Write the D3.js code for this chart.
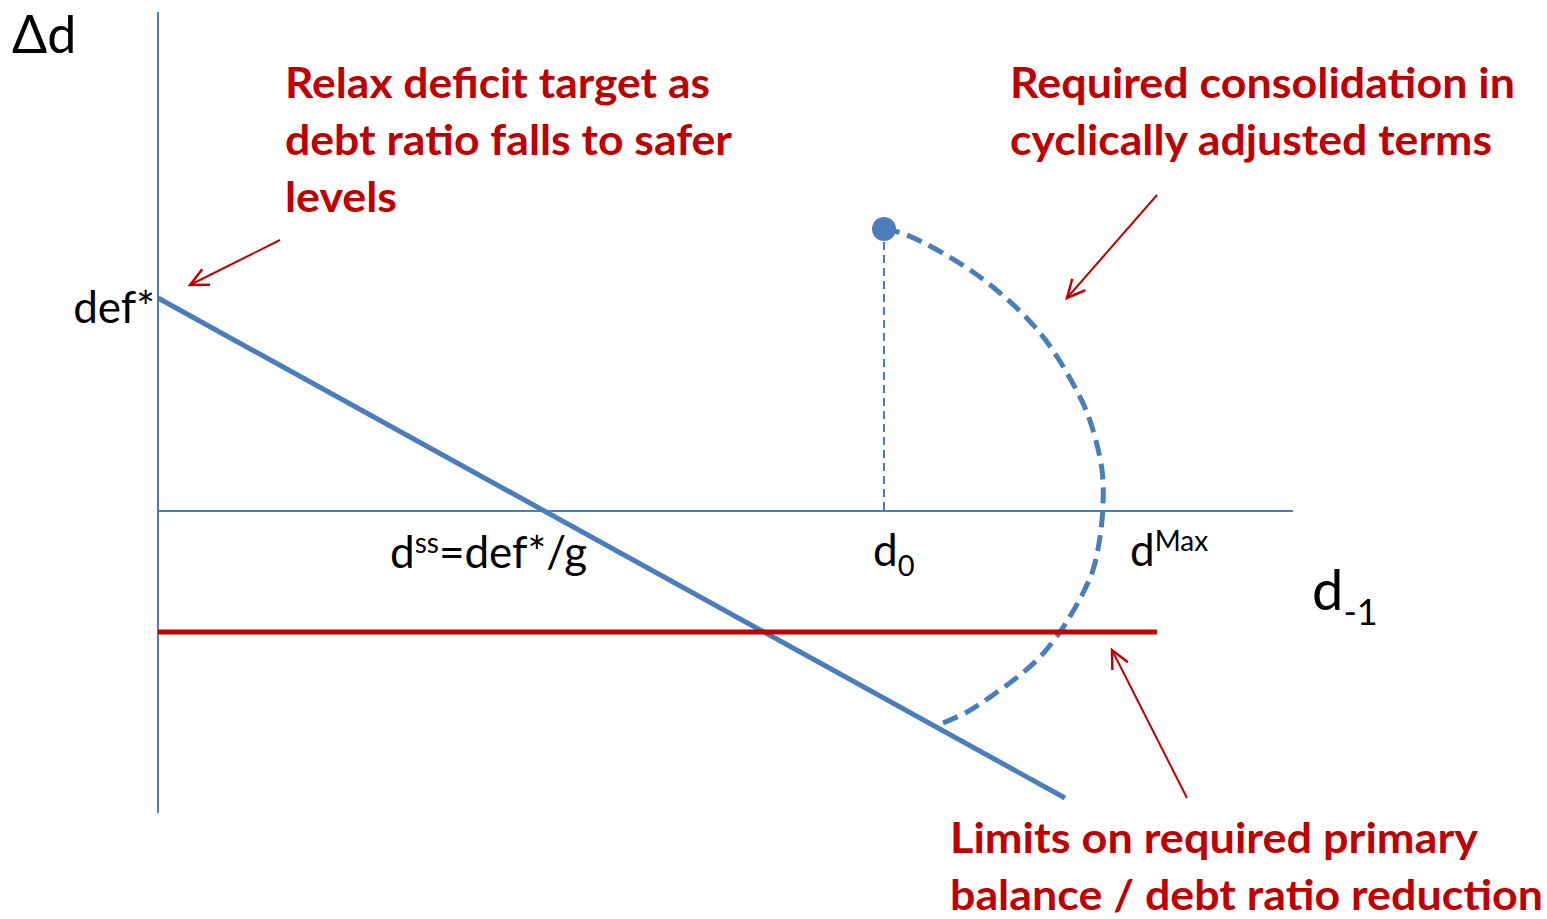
<!DOCTYPE html>
<html>
<head>
<meta charset="utf-8">
<script src="https://cdn.jsdelivr.net/npm/d3@7"></script>
<style>
  body { margin: 0; background: #fff; }
  text { font-family: Lato, "Open Sans", "DejaVu Sans", sans-serif; }
</style>
</head>
<body>
<div id="chart"></div>
<script>
// values in diagram units (1 unit = 10px)
var axisX = [0, 113.5];
var axisY = [-30.2, 49.9];
var targetLine = [[0, 21.3], [90.7, -28.7]];   // def* falling with debt ratio
var limitLine = [[0, -12.1], [99.9, -12.1]];   // primary balance limit
var startPoint = [72.6, 28.2];                 // d0 starting point
var pathPoints = [
    [72.6, 28.2], [74.9, 27.6], [82.2, 23.4], [88.2, 17.8], [92.2, 11.4],
    [93.4, 8.4], [94.4, 4.1], [94.5, 0.6], [94.2, -2.6], [93.5, -5.9],
    [92.5, -8.2], [91.4, -10.2], [90.2, -12.1], [88.2, -14.6], [86.2, -16.4],
    [83.5, -18.4], [80.9, -20.1], [78.5, -21.2]
];
var arrows = [
    [[12.2, 27.1], [3.2, 22.6]],
    [[99.9, 31.6], [90.9, 21.3]],
    [[102.9, -28.7], [95.4, -13.9]]
];
var notes = [
    {lines: ["Relax deficit target as", "debt ratio falls to safer", "levels"], widths: [425, 447, 112]},
    {lines: ["Required consolidation in", "cyclically adjusted terms"], widths: [505, 482]},
    {lines: ["Limits on required primary", "balance / debt ratio reduction"], widths: [528, 593]}
];

var width = 1547;
var height = 919;
var blue = "#4a7ebb";
var red = "#c00000";

var svg = d3.select("#chart").append("svg")
    .attr("width", width)
    .attr("height", height);

var x = d3.scaleLinear().domain([0, 10]).range([158, 258]);
var y = d3.scaleLinear().domain([0, 10]).range([511, 411]);

// axes
svg.append("line")
    .attr("x1", x(0)).attr("x2", x(0))
    .attr("y1", y(axisY[1])).attr("y2", y(axisY[0]))
    .style("stroke", blue).style("stroke-width", 2);
svg.append("line")
    .attr("x1", x(axisX[0])).attr("x2", x(axisX[1]))
    .attr("y1", y(0)).attr("y2", y(0))
    .style("stroke", blue).style("stroke-width", 1.8);

var line = d3.line().x(d => x(d[0])).y(d => y(d[1]));

// dashed drop from starting point
svg.append("line")
    .attr("x1", x(startPoint[0])).attr("x2", x(startPoint[0]))
    .attr("y1", y(startPoint[1])).attr("y2", y(0))
    .style("stroke", blue).style("stroke-width", 2)
    .style("stroke-dasharray", "8,5");

// consolidation path
svg.append("path")
    .attr("d", line.curve(d3.curveCatmullRom)(pathPoints))
    .style("fill", "none")
    .style("stroke", blue).style("stroke-width", 5)
    .style("stroke-dasharray", "16,8");

svg.append("circle")
    .attr("cx", x(startPoint[0])).attr("cy", y(startPoint[1]))
    .attr("r", 12)
    .style("fill", blue);

line.curve(d3.curveLinear);

svg.append("path")
    .attr("d", line(targetLine))
    .style("stroke", blue).style("stroke-width", 5).style("fill", "none");

svg.append("path")
    .attr("d", line(limitLine))
    .style("stroke", red).style("stroke-width", 5).style("fill", "none");

// annotation arrows with open heads
arrows.forEach(function(a) {
    var x1 = x(a[0][0]), y1 = y(a[0][1]), x2 = x(a[1][0]), y2 = y(a[1][1]);
    var ang = Math.atan2(y2 - y1, x2 - x1);
    var len = 20, spread = 0.45;
    svg.append("line")
        .attr("x1", x1).attr("y1", y1).attr("x2", x2).attr("y2", y2)
        .style("stroke", red).style("stroke-width", 2);
    svg.append("path")
        .attr("d", "M" + (x2 - len * Math.cos(ang - spread)) + "," + (y2 - len * Math.sin(ang - spread)) +
            "L" + x2 + "," + y2 +
            "L" + (x2 - len * Math.cos(ang + spread)) + "," + (y2 - len * Math.sin(ang + spread)))
        .style("fill", "none")
        .style("stroke", red).style("stroke-width", 2.5);
});

// red notes
var notePos = [[285, 98], [1010, 98], [950, 853]];
notes.forEach(function(n, i) {
    n.lines.forEach(function(t, j) {
        svg.append("text")
            .attr("x", notePos[i][0])
            .attr("y", notePos[i][1] + j * 57)
            .attr("textLength", n.widths[j])
            .attr("lengthAdjust", "spacingAndGlyphs")
            .style("font-size", "42px")
            .style("font-weight", "bold")
            .style("fill", red)
            .text(t);
    });
});

// black labels
function label(px, py, size, main, script, scriptSize, shift) {
    var t = svg.append("text").attr("x", px).attr("y", py)
        .style("font-size", size + "px").style("fill", "#000");
    t.append("tspan").text(main);
    if (script) {
        t.append("tspan").attr("dy", shift).style("font-size", scriptSize + "px").text(script);
    }
    return t;
}

label(12, 53, 52, "Δd");
label(155, 323, 44, "def*").attr("text-anchor", "end");
label(390, 568, 44, "d", "ss", 28, -15).append("tspan").attr("dy", 15).text("=def*/g");
label(873, 566, 44, "d", "0", 29, 10);
label(1130, 566, 44, "d", "Max", 28, -15);
label(1312, 610, 56, "d", "-1", 36, 15);
</script>
</body>
</html>
